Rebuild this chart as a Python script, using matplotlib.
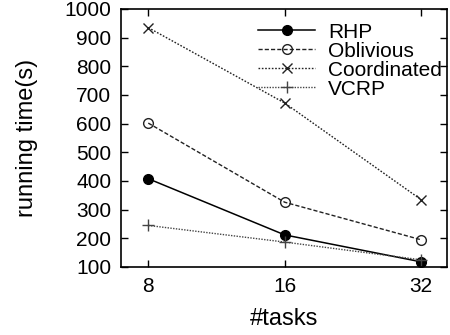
import matplotlib
matplotlib.use('Agg')
from matplotlib import pyplot as plt

tasks = ['8', '16', '32']
rhp = [408, 212, 118]
oblivious = [602, 326, 195]
coordinated = [935, 672, 335]
vcrp = [245, 187, 125]

plt.rcParams['font.family'] = ['Liberation Sans', 'DejaVu Sans']
plt.rcParams['font.size'] = 15

fig = plt.figure(figsize=(4.5, 3.35), dpi=100)
ax = fig.add_axes([121/450, 1-267/335, (447-121)/450, (267-9)/335])

x = range(len(tasks))
ax.plot(x, rhp, color='black', lw=1.1, ls='-', marker='o', ms=7, label='RHP')
ax.plot(x, oblivious, color='#222222', lw=1.0, ls=(0, (3, 1.5)), marker='o', ms=7,
        mfc='none', mew=1.0, label='Oblivious')
ax.plot(x, coordinated, color='#222222', lw=1.0, ls=(0, (1.2, 1.2)), marker='x', ms=7,
        mew=1.0, label='Coordinated')
ax.plot(x, vcrp, color='#444444', lw=1.0, ls=(0, (1, 1)), marker='+', ms=8,
        mew=1.0, label='VCRP')

ax.set_xlim(-0.2, 2.19)
ax.set_ylim(100, 1000)
ax.set_xticks(list(x))
ax.set_xticklabels(tasks)
ax.set_yticks(range(100, 1001, 100))
ax.tick_params(direction='in', top=True, right=True, length=5, width=1, pad=7)
for s in ax.spines.values():
    s.set_linewidth(1.2)

ax.set_xlabel('#tasks', fontsize=17, labelpad=9)
ax.set_ylabel('running time(s)', fontsize=17, labelpad=19)

leg = ax.legend(loc='upper right', frameon=False, handlelength=2.75, handletextpad=0.63,
                labelspacing=0.0, borderaxespad=0.25, bbox_to_anchor=(1.027, 1.0))

fig.savefig('out.png', dpi=100)
